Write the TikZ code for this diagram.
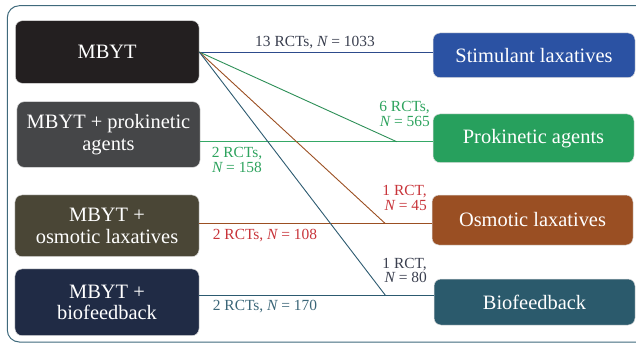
\documentclass[tikz,border=0pt]{standalone}
\usepackage{fontspec}
\setmainfont{Liberation Serif}
\newcommand{\mybxfont}{\fontsize{20.5}{21.5}\selectfont}
\newcommand{\mylbfont}{\fontsize{15.5}{14.8}\selectfont}
\definecolor{frameC}{HTML}{3F6A7C}
\definecolor{cMBYT}{HTML}{231F20}
\definecolor{cProk}{HTML}{454648}
\definecolor{cOsm}{HTML}{4A4636}
\definecolor{cBio}{HTML}{202B45}
\definecolor{cStim}{HTML}{2B52A3}
\definecolor{cProkA}{HTML}{27A05D}
\definecolor{cOsmL}{HTML}{9A4F23}
\definecolor{cBioR}{HTML}{2B5A6C}
\definecolor{lBlue}{HTML}{2D4B8C}
\definecolor{lGreen}{HTML}{35A866}
\definecolor{lBrown}{HTML}{9B4F22}
\definecolor{lTeal}{HTML}{2C5A70}
\definecolor{tGreen}{HTML}{2EA35E}
\definecolor{tRed}{HTML}{C8343A}
\definecolor{tDark}{HTML}{3A3F4F}
\definecolor{tTeal}{HTML}{3B6678}
\tikzset{
  box/.style={rounded corners=7bp, text=white, align=center, inner sep=0pt,
    font=\mybxfont, draw=white!75!gray, line width=0.5bp},
  conn/.style={line width=0.9bp},
  lbl/.style={font=\mylbfont, inner sep=0pt},
}
\begin{document}
\begin{tikzpicture}[x=1bp,y=-1bp]
\useasboundingbox (0,0) rectangle (636,343);
\clip (0,0) rectangle (636,343);
\draw[frameC, line width=1bp, rounded corners=12bp] (7.3,5.7) rectangle (650,342);
% left boxes
\node[box, fill=cMBYT, minimum width=183.7bp, minimum height=62.6bp] (mbyt) at (107.2,52) {MBYT};
\node[box, fill=cProk, minimum width=183bp, minimum height=65.6bp] (prok) at (108.5,134.5) {MBYT + prokinetic\\agents};
\node[box, fill=cOsm, minimum width=184bp, minimum height=61.7bp] (osm) at (107,225.8) {MBYT +\\osmotic laxatives};
\node[box, fill=cBio, minimum width=184bp, minimum height=66.7bp] (bio) at (107,302.3) {MBYT +\\biofeedback};
% right boxes
\node[box, fill=cStim, minimum width=202bp, minimum height=44.7bp] (stim) at (534,55.3) {Stimulant laxatives};
\node[box, fill=cProkA, minimum width=201bp, minimum height=48.7bp] (proka) at (533.5,138.3) {Prokinetic agents};
\node[box, fill=cOsmL, minimum width=201bp, minimum height=50bp] (osml) at (532.5,220) {Osmotic laxatives};
\node[box, fill=cBioR, minimum width=201bp, minimum height=46bp] (bior) at (534.5,302) {Biofeedback};
% junctions
\coordinate (jG) at (396.7,141.7);
\coordinate (jO) at (385,223.3);
\coordinate (jB) at (385.7,295.7);
% connectors
\draw[conn, lBlue] (mbyt.east) -- (mbyt.east -| stim.west);
\draw[conn, lGreen] (prok.east |- jG) -- (proka.west |- jG);
\draw[conn, lGreen!85!black] (mbyt.east) -- (jG);
\draw[conn, lBrown] (osm.east |- jO) -- (osml.west |- jO);
\draw[conn, lBrown] (mbyt.east) -- (jO);
\draw[conn, lTeal] (bio.east |- jB) -- (bior.west |- jB);
\draw[conn, lTeal] (mbyt.east) -- (jB);
% labels
\node[lbl, text=tDark, anchor=base] (l1) at (315,46) {13 RCTs, {\itshape N} = 1033};
\node[lbl, text=tGreen, anchor=north east, align=right] (l2) at (430,101.2) {6 RCTs,\\{\itshape N} = 565};
\node[lbl, text=tGreen, anchor=north, align=center] (l3) at (237,147.5) {2 RCTs,\\{\itshape N} = 158};
\node[lbl, text=tRed, anchor=north east, align=right] (l4) at (427,185.2) {1 RCT,\\{\itshape N} = 45};
\node[lbl, text=tRed, anchor=base west] (l5) at (212.7,239.3) {2 RCTs, {\itshape N} = 108};
\node[lbl, text=tDark, anchor=north east, align=right] (l6) at (427,257.8) {1 RCT,\\{\itshape N} = 80};
\node[lbl, text=tTeal, anchor=base west] (l7) at (212.7,310.7) {2 RCTs, {\itshape N} = 170};
\end{tikzpicture}
\end{document}
